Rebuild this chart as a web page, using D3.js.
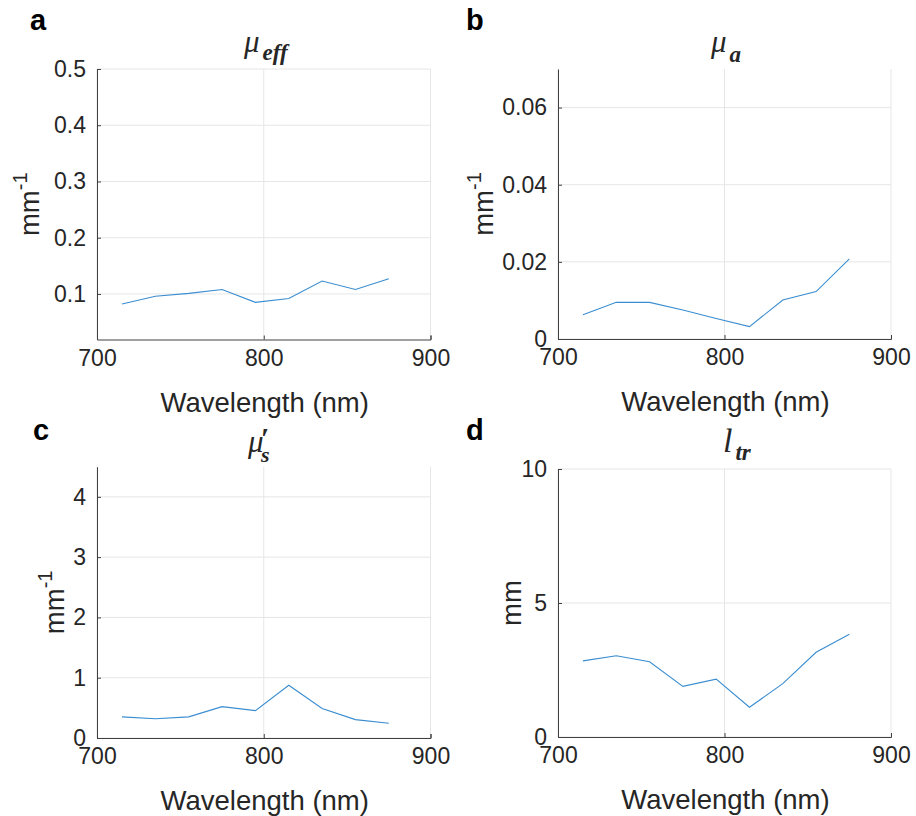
<!DOCTYPE html>
<html>
<head>
<meta charset="utf-8">
<script src="https://cdn.jsdelivr.net/npm/d3@7"></script>
<style>
  body { margin: 0; background: #fff; }
  text { font-family: "Liberation Sans", Arial, sans-serif; fill: #262626; }
  .grid line { stroke: #e6e6e6; stroke-width: 1; }
  .axis path, .axis line { stroke: #404040; stroke-width: 1; }
  .axis text { font-size: 23px; fill: #262626; }
</style>
</head>
<body>
<div id="chart"></div>
<script>
// data
var wavelengths = [715, 735, 755, 775, 795, 815, 835, 855, 875];
var muEff = [0.082, 0.096, 0.101, 0.108, 0.085, 0.092, 0.123, 0.108, 0.127];
var muA = [0.0063, 0.0095, 0.0095, 0.0075, 0.0053, 0.0032, 0.0101, 0.0123, 0.0208];
var muSPrime = [0.35, 0.32, 0.35, 0.52, 0.455, 0.875, 0.49, 0.305, 0.245];
var lTr = [2.84, 3.03, 2.81, 1.89, 2.16, 1.11, 1.99, 3.16, 3.83];

var xTicks = [700, 800, 900];
var yTicksA = [0.1, 0.2, 0.3, 0.4, 0.5];
var yTicksB = [0, 0.02, 0.04, 0.06];
var yTicksC = [0, 1, 2, 3, 4];
var yTicksD = [0, 5, 10];

var svgWidth = 916;
var svgHeight = 816;

var svg = d3.select("#chart")
    .append("svg")
    .attr("width", svgWidth)
    .attr("height", svgHeight);

// one entry per subplot
var panels = [
    { letter: "a", values: muEff, yDomain: [0.019, 0.5], yTicks: yTicksA, fmt: d3.format(".1f"),
      box: { left: 97, right: 430.5, top: 69, bottom: 339.5 }, unit: "mm", sup: "-1", unitX: 39,
      title: { main: "μ", sub: "eff", x: 244, y: 52 }, labelPos: [30, 30] },
    { letter: "b", values: muA, yDomain: [0, 0.07], yTicks: yTicksB, fmt: function (d) { return d === 0 ? "0" : d3.format(".2f")(d); },
      box: { left: 558, right: 891, top: 69, bottom: 339 }, unit: "mm", sup: "-1", unitX: 493,
      title: { main: "μ", sub: "a", x: 711, y: 52 }, labelPos: [466, 30] },
    { letter: "c", values: muSPrime, yDomain: [0, 4.5], yTicks: yTicksC, fmt: d3.format("d"),
      box: { left: 97, right: 430.5, top: 466.7, bottom: 738 }, unit: "mm", sup: "-1", unitX: 64,
      title: { main: "μ", sub: "s", prime: true, x: 248, y: 452 }, labelPos: [33, 440] },
    { letter: "d", values: lTr, yDomain: [0, 10], yTicks: yTicksD, fmt: d3.format("d"),
      box: { left: 558, right: 891, top: 469, bottom: 737 }, unit: "mm", sup: null, unitX: 521,
      title: { main: "l", sub: "tr", x: 723, y: 452 }, labelPos: [466, 440] }
];

panels.forEach(function (p) {
    var b = p.box;
    var w = b.right - b.left;
    var h = b.bottom - b.top;

    var xScale = d3.scaleLinear().domain([700, 900]).range([0, w]);
    var yScale = d3.scaleLinear().domain(p.yDomain).range([h, 0]);

    var g = svg.append("g")
        .attr("transform", `translate(${b.left}, ${b.top})`);

    // grid lines
    var grid = g.append("g").attr("class", "grid");
    grid.selectAll(".gx")
        .data(xTicks)
        .enter()
        .append("line")
        .attr("x1", d => xScale(d))
        .attr("x2", d => xScale(d))
        .attr("y1", 0)
        .attr("y2", h);
    grid.selectAll(".gy")
        .data(p.yTicks)
        .enter()
        .append("line")
        .attr("x1", 0)
        .attr("x2", w)
        .attr("y1", d => yScale(d))
        .attr("y2", d => yScale(d));

    // axes, ticks pointing inward like matlab
    var xAxis = d3.axisBottom(xScale).tickValues(xTicks).tickSizeInner(-4).tickSizeOuter(-4).tickPadding(10).tickFormat(d3.format("d"));
    var yAxis = d3.axisLeft(yScale).tickValues(p.yTicks).tickSizeInner(-4).tickSizeOuter(0).tickPadding(11).tickFormat(p.fmt);

    g.append("g")
        .attr("class", "axis")
        .attr("transform", `translate(0, ${h})`)
        .call(xAxis);

    g.append("g")
        .attr("class", "axis")
        .call(yAxis);

    // data line
    var line = d3.line()
        .x((d, i) => xScale(wavelengths[i]))
        .y(d => yScale(d));

    g.append("path")
        .datum(p.values)
        .attr("fill", "none")
        .attr("stroke", "#3a8dd0")
        .attr("stroke-width", 1.1)
        .attr("d", line);

    // x label
    svg.append("text")
        .attr("x", b.left + w / 2 + 1)
        .attr("y", b.bottom + 72)
        .attr("text-anchor", "middle")
        .attr("font-size", "27.5px")
        .text("Wavelength (nm)");

    // y label
    var yl = svg.append("text")
        .attr("transform", `translate(${p.unitX}, ${b.top + h / 2}) rotate(-90)`)
        .attr("text-anchor", "middle")
        .attr("font-size", "27.5px");
    yl.append("tspan").text(p.unit);
    if (p.sup) {
        yl.append("tspan")
            .attr("dy", -12)
            .attr("font-size", "20px")
            .text(p.sup);
    }

    // title
    var t = svg.append("text")
        .attr("x", p.title.x)
        .attr("y", p.title.y)
        .style("font-family", "'Liberation Serif', 'Times New Roman', serif")
        .style("font-style", "italic")
        .attr("font-size", p.letter === "d" ? "34px" : "31px");
    t.append("tspan").text(p.title.main);
    if (p.title.prime) {
        // prime sits above the subscript
        t.append("tspan")
            .attr("dx", -3)
            .attr("dy", -4)
            .attr("font-size", "30px")
            .attr("font-weight", "bold")
            .text("′");
        t.append("tspan")
            .attr("dx", -8)
            .attr("dy", 14)
            .attr("font-size", "22px")
            .attr("font-weight", "bold")
            .text(p.title.sub);
    } else {
        t.append("tspan")
            .attr("dx", 3)
            .attr("dy", p.letter === "b" ? 10 : 8)
            .attr("font-size", "23px")
            .attr("font-weight", "bold")
            .text(p.title.sub);
    }

    // panel letter
    svg.append("text")
        .attr("x", p.labelPos[0])
        .attr("y", p.labelPos[1])
        .attr("font-size", "29px")
        .attr("font-weight", "bold")
        .style("fill", "#000")
        .text(p.letter);
});
</script>
</body>
</html>
